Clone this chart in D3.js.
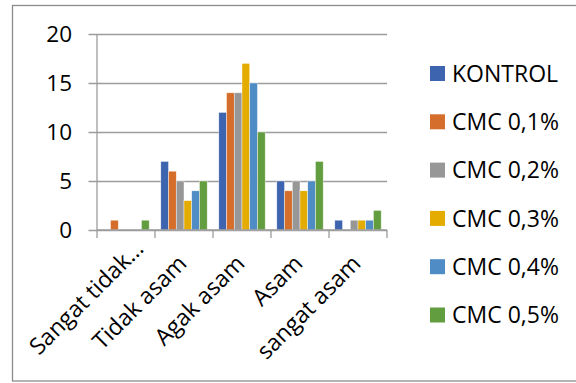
<!DOCTYPE html>
<html>
<head>
<meta charset="utf-8">
<script src="https://cdn.jsdelivr.net/npm/d3@7"></script>
<style>
  html, body { margin: 0; padding: 0; background: #fff; }
  svg { display: block; }
  text { font-family: "Open Sans", "Liberation Sans", sans-serif; fill: #000; }
</style>
</head>
<body>
<svg id="chart" width="576" height="383"></svg>
<script>
const categories = ["Sangat tidak…", "Tidak asam", "Agak asam", "Asam", "sangat asam"];
const seriesNames = ["KONTROL", "CMC 0,1%", "CMC 0,2%", "CMC 0,3%", "CMC 0,4%", "CMC 0,5%"];
const kontrol = [0, 7, 12, 5, 1];
const cmc01 = [1, 6, 14, 4, 0];
const cmc02 = [0, 5, 14, 5, 1];
const cmc03 = [0, 3, 17, 4, 1];
const cmc04 = [0, 4, 15, 5, 1];
const cmc05 = [1, 5, 10, 7, 2];
const yTicks = [0, 5, 10, 15, 20];
const colors = ["#3d64ae", "#d56d2b", "#979797", "#e4ab00", "#4f8cc5", "#629d40"];

const seriesValues = [kontrol, cmc01, cmc02, cmc03, cmc04, cmc05];

const svg = d3.select("#chart");

// outer chart border
svg.append("rect")
  .attr("x", 12.5).attr("y", 5.5)
  .attr("width", 600).attr("height", 375.5)
  .attr("fill", "none").attr("stroke", "#8c8c8c").attr("stroke-width", 1.3);

const plot = { left: 97, right: 387, top: 34, bottom: 230 };

const x = d3.scaleBand().domain(categories).range([plot.left, plot.right]).padding(0);
const xs = d3.scaleBand().domain(seriesNames).range([0, x.bandwidth()])
  .paddingInner(0).paddingOuter(0.75);
const y = d3.scaleLinear().domain([0, 20]).range([plot.bottom, plot.top]);

// gridlines
const yAxis = d3.axisLeft(y).tickValues(yTicks).tickSize(-(plot.right - plot.left)).tickFormat("");
const gy = svg.append("g").attr("transform", `translate(${plot.left},0)`).call(yAxis);
gy.select(".domain").remove();
gy.selectAll(".tick line")
  .attr("x1", -8.5)
  .attr("stroke", "#9c9c9c").attr("stroke-width", 1.3);

// vertical axis line
svg.append("line")
  .attr("x1", plot.left).attr("x2", plot.left)
  .attr("y1", y(20)).attr("y2", y(0))
  .attr("stroke", "#9c9c9c").attr("stroke-width", 1.3);

// y tick labels
svg.append("g").selectAll("text").data(yTicks).join("text")
  .attr("x", 72).attr("y", d => y(d))
  .attr("dy", "0.36em")
  .attr("text-anchor", "end")
  .style("font-size", "22.5px")
  .text(d => d);

// bars
const gBars = svg.append("g");
seriesNames.forEach((name, si) => {
  gBars.append("g").selectAll("rect").data(seriesValues[si]).join("rect")
    .attr("x", (d, ci) => x(categories[ci]) + xs(name))
    .attr("y", d => y(d))
    .attr("width", xs.bandwidth())
    .attr("height", d => y(0) - y(d))
    .attr("fill", colors[si])
    .attr("stroke", "#ffffff").attr("stroke-width", 0.6).attr("stroke-opacity", 0.7);
});

// x axis
const xAxis = d3.axisBottom(x).tickSize(0).tickFormat("");
const gx = svg.append("g").attr("transform", `translate(0,${plot.bottom})`).call(xAxis);
gx.select(".domain").attr("stroke", "#9c9c9c").attr("stroke-width", 1.3)
  .attr("d", `M${plot.left},0H${plot.right}`);
const boundaries = categories.map(c => x(c)).concat([plot.right]);
gx.selectAll(".bnd").data(boundaries).join("line")
  .attr("class", "bnd")
  .attr("x1", d => d).attr("x2", d => d)
  .attr("y1", 0).attr("y2", 8)
  .attr("stroke", "#9c9c9c").attr("stroke-width", 1.3);

// category labels
svg.append("g").selectAll("text").data(categories).join("text")
  .attr("transform", d => `translate(${x(d) + x.bandwidth() / 2 + 4},265) rotate(-45)`)
  .attr("text-anchor", "end")
  .attr("dx", d => d.endsWith("…") ? 21 : 0)
  .style("font-size", "23px")
  .text(d => d);

// legend
const legend = svg.append("g").attr("transform", "translate(430,73.5)");
const items = legend.selectAll("g").data(seriesNames).join("g")
  .attr("transform", (d, i) => `translate(0,${i * 48.3})`);
items.append("rect")
  .attr("x", 0).attr("y", -7.5).attr("width", 15).attr("height", 15)
  .attr("fill", (d, i) => colors[i]);
items.append("text")
  .attr("x", 22).attr("y", 0).attr("dy", "0.36em")
  .style("font-size", "23px")
  .text(d => d);
</script>
</body>
</html>
